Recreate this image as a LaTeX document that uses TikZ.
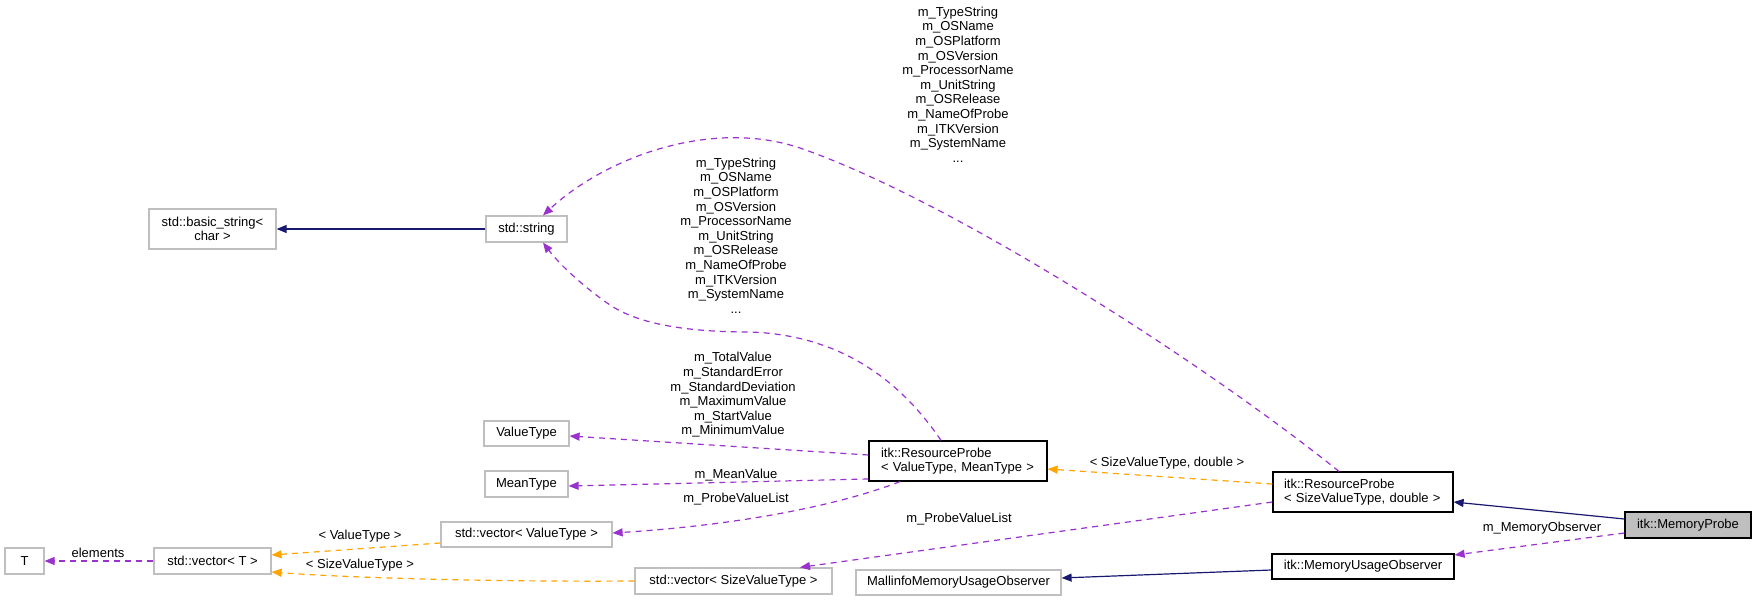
\documentclass[tikz,border=0pt]{standalone}
\usepackage{fontspec}
\setmainfont{Liberation Sans}
\usetikzlibrary{arrows.meta}
\definecolor{navyc}{HTML}{191970}
\definecolor{purp}{HTML}{9A32CD}
\definecolor{orng}{HTML}{FFA500}
\definecolor{gbord}{HTML}{BFBFBF}
\tikzset{
  txt/.style={font=\fontsize{13pt}{14.6pt}\selectfont},
  gbox/.style={txt, draw=gbord, line width=1.2pt, inner sep=0pt, align=center},
  kbox/.style={txt, draw=black, line width=1.2pt, inner sep=0pt, align=center},
  lbox/.style={txt, draw=black, line width=1.2pt, inner ysep=0pt, align=left},
  lab/.style={txt, inner sep=0pt, align=center},
  tipx/.style={-{Triangle[length=10pt,width=8pt]}},
  inh/.style={tipx, draw=navyc, line width=1.2pt},
  use/.style={tipx, draw=purp, line width=1.2pt, dash pattern=on 6pt off 5pt},
  tmpl/.style={tipx, draw=orng, line width=1.2pt, dash pattern=on 6pt off 5pt},
}
\begin{document}
\begin{tikzpicture}[x=1pt,y=-1pt]
\useasboundingbox (0,0) rectangle (1756,601);
% nodes
\node[gbox, minimum width=127pt, minimum height=40pt] (bstr) at (212.5,229) {std::basic\_string<\\char >};
\node[gbox, minimum width=81pt, minimum height=26pt] (str) at (526.5,229) {std::string};
\node[gbox, minimum width=39pt, minimum height=26pt] (T) at (24.5,561) {T};
\node[gbox, minimum width=117pt, minimum height=26pt] (vT) at (212.5,561) {std::vector< T >};
\node[gbox, minimum width=85pt, minimum height=25pt] (vt) at (526.5,433.5) {ValueType};
\node[gbox, minimum width=83pt, minimum height=26pt] (mt) at (526.5,484) {MeanType};
\node[gbox, minimum width=171pt, minimum height=25pt] (vvt) at (526.5,534.5) {std::vector< ValueType >};
\node[lbox, text width=154pt, inner xsep=12pt, minimum height=40pt] (rp1) at (958,461) {itk::ResourceProbe\\< ValueType, MeanType >};
\node[gbox, minimum width=197pt, minimum height=26pt] (vsvt) at (733.5,581) {std::vector< SizeValueType >};
\node[gbox, minimum width=205pt, minimum height=25pt] (mall) at (958.5,582.5) {MallinfoMemoryUsageObserver};
\node[lbox, text width=158pt, inner xsep=11pt, minimum height=40pt] (rp2) at (1363,492) {itk::ResourceProbe\\< SizeValueType, double >};
\node[kbox, minimum width=182pt, minimum height=25pt] (muo) at (1363,566.5) {itk::MemoryUsageObserver};
\node[kbox, fill=gbord, minimum width=126pt, minimum height=26pt] (mp) at (1688,525) {itk::MemoryProbe};
% edges
\draw[inh] (str.west) -- (bstr.east);
\draw[use] ([xshift=-17pt]rp1.north) .. controls (900,380) and (840,335) .. (750,332)
  .. controls (690,332) and (640,325) .. (610,305)
  .. controls (585,288) and (560,265) .. ([xshift=16.5pt]str.south);
\draw[use] ([xshift=-24pt]rp2.north) .. controls (1200,360) and (950,200) .. (800,148)
  .. controls (710,118) and (605,158) .. ([xshift=16.5pt]str.north);
\draw[use] ([yshift=6pt]rp1.west) -- ([yshift=-2.5pt]vt.east);
\draw[use] ([yshift=-18pt]rp1.west) -- ([yshift=-2pt]mt.east);
\draw[use] ([xshift=-58pt]rp1.south) .. controls (840,505) and (740,525) .. ([yshift=1.5pt]vvt.east);
\draw[use] (vT.west) -- (T.east);
\draw[tmpl] ([yshift=-8.5pt]vvt.west) -- ([yshift=6pt]vT.east);
\draw[tmpl] (vsvt.west) .. controls (500,582) and (350,578) .. ([yshift=-11pt]vT.east);
\draw[tmpl] ([yshift=8pt]rp2.west) -- ([yshift=-8pt]rp1.east);
\draw[use] ([yshift=-10pt]rp2.west) -- ([xshift=66.5pt]vsvt.north);
\draw[inh] ([yshift=6pt]mp.west) -- ([yshift=-10pt]rp2.east);
\draw[use] ([yshift=-8pt]mp.west) -- ([yshift=11.5pt]muo.east);
\draw[inh] ([yshift=-3.5pt]muo.west) -- ([yshift=4.5pt]mall.east);
% labels
\node[lab] (l1) at (958,84.5) {m\_TypeString\\m\_OSName\\m\_OSPlatform\\m\_OSVersion\\m\_ProcessorName\\m\_UnitString\\m\_OSRelease\\m\_NameOfProbe\\m\_ITKVersion\\m\_SystemName\\...};
\node[lab] (l2) at (736,235.5) {m\_TypeString\\m\_OSName\\m\_OSPlatform\\m\_OSVersion\\m\_ProcessorName\\m\_UnitString\\m\_OSRelease\\m\_NameOfProbe\\m\_ITKVersion\\m\_SystemName\\...};
\node[lab] (l3) at (733,395) {m\_TotalValue\\m\_StandardError\\m\_StandardDeviation\\m\_MaximumValue\\m\_StartValue\\m\_MinimumValue};
\node[lab] (l4) at (736,475) {m\_MeanValue};
\node[lab] (l5) at (736,499) {m\_ProbeValueList};
\node[lab] (l6) at (959,519) {m\_ProbeValueList};
\node[lab] (l7) at (1167,463) {< SizeValueType, double >};
\node[lab] (l8) at (1542,528) {m\_MemoryObserver};
\node[lab] (l9) at (98,553) {elements};
\node[lab] (l10) at (360,536) {< ValueType >};
\node[lab] (l11) at (360,565) {< SizeValueType >};
\end{tikzpicture}
\end{document}
